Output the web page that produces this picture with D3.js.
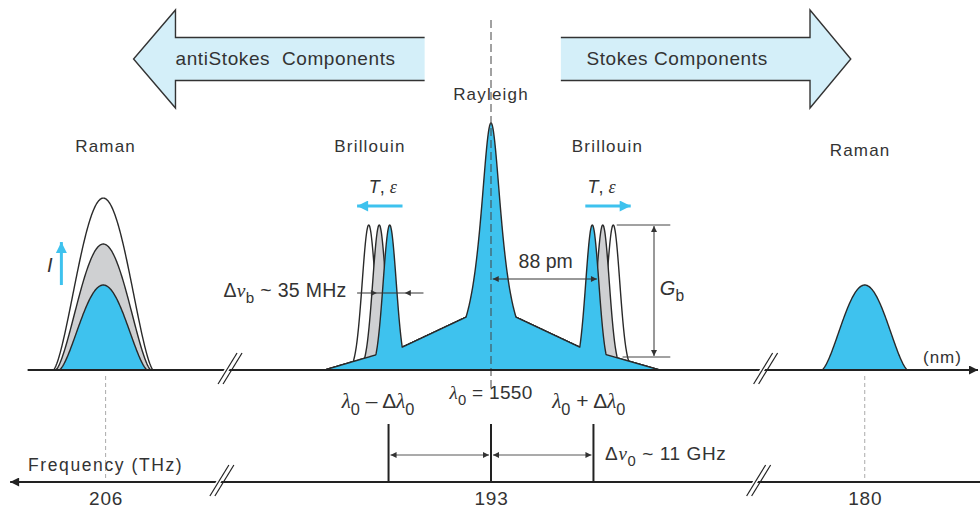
<!DOCTYPE html>
<html><head><meta charset="utf-8">
<script src="https://cdn.jsdelivr.net/npm/d3@7"></script>
<style>
html,body{margin:0;padding:0;background:#fff;}
svg{display:block;font-family:"Liberation Sans",Arial,sans-serif;}
</style></head><body>
<svg id="chart" width="980" height="515"></svg>
<script>
// ---------------- data (wavelength offset from λ0 in pm, intensity relative to Rayleigh) ----------------
const componentNames   = ["Raman", "Brillouin", "Rayleigh", "Brillouin", "Raman"];
const componentLabelPm = [-331, -104, 0, 100, 317];
const componentLabelY  = [152, 152, 100, 152, 156];

const rayleighPeak = 1.0;          // relative height
const rayleighHalfWidthPm = 11.2;  // Lorentzian half width

const pedestalPm    = [-143, -76, -21, 0, 21, 76, 145];
const pedestalLevel = [0, 0.093, 0.215, 0.26, 0.215, 0.093, 0];

const brillouinShiftPm = [87, 96, 105];         // blue (now), gray, white (shifted by T, ε)
const brillouinLevel   = [0.587, 0.587, 0.587];
const brillouinSigmaPm = 5.6;

const ramanAntiStokesPm = -333;
const ramanAntiStokesLevel = [0.344, 0.51, 0.696]; // blue, gray, white (increasing I)
const ramanAntiStokesHalfPm = [38, 41, 43];
const ramanStokesPm = 321;
const ramanStokesLevel = 0.344;
const ramanStokesHalfPm = 37;

const freqTickPm = [-331, 0, 321];
const freqTickLabels = ["206", "193", "180"];
const lambdaMarkPm = [-88, 0, 88];
const upperBreakPm = [-225, 235];
const lowerBreakPm = [-232, 229];

const arrowLabels = ["antiStokes  Components", "Stokes Components"];
const antiStokesArrowPm = [-307, -271, -57];  // tip, head base, shaft end
const stokesArrowPm = [60, 274, 309];         // shaft start, head base, tip

// ---------------- setup ----------------
const INK = "#333", BLUE = "#3ec2ee", GRAY = "#cfd0d2", PALE = "#d4eff9";
const svg = d3.select("#chart");
const x = d3.scaleLinear().domain([-420, 420]).range([2, 980]);
const y = d3.scaleLinear().domain([0, 1]).range([370, 123]);
const freqY = 482;

const defs = svg.append("defs");
function marker(id, color, w, h) {
  defs.append("marker").attr("id", id).attr("viewBox", "0 0 10 10").attr("refX", 10).attr("refY", 5)
    .attr("markerUnits", "userSpaceOnUse").attr("markerWidth", w).attr("markerHeight", h)
    .attr("orient", "auto-start-reverse")
    .append("path").attr("d", "M0,0 L10,5 L0,10 z").attr("fill", color);
}
marker("ah", INK, 9, 6);
marker("ahBig", "#222", 13, 9);
marker("ahBlue", BLUE, 14, 11);

function rich(sel, xp, yp, parts, size, anchor, ls) {
  const t = sel.append("text").attr("x", xp).attr("y", yp).attr("text-anchor", anchor || "start")
    .attr("font-size", size).attr("fill", INK).attr("letter-spacing", ls || 0).style("white-space", "pre");
  let shift = 0;
  parts.forEach(p => {
    const ts = t.append("tspan").text(p.t);
    const target = p.sub ? size * 0.32 : 0;
    if (target !== shift) { ts.attr("dy", target - shift); shift = target; }
    if (p.sub) ts.attr("font-size", size * 0.78);
    if (p.it) ts.attr("font-style", "italic");
    if (p.serif) ts.attr("font-family", "'Liberation Serif','DejaVu Serif',serif");
  });
  return t;
}

// ---------------- block arrows ----------------
const aCy = 59, shaftH = 21.5, headH = 49;
{
  const [tip, hb, se] = antiStokesArrowPm.map(x);
  const pts = [[se, aCy - shaftH], [hb, aCy - shaftH], [hb, aCy - headH], [tip, aCy], [hb, aCy + headH], [hb, aCy + shaftH], [se, aCy + shaftH]];
  svg.append("path").attr("d", d3.line()(pts) + "Z").attr("fill", PALE);
  svg.append("path").attr("d", d3.line()(pts)).attr("fill", "none").attr("stroke", INK).attr("stroke-width", 1.4);
  svg.append("text").attr("x", x(-271)).attr("y", 65).attr("font-size", 19).attr("letter-spacing", 0.6)
    .attr("fill", INK).style("white-space", "pre").text(arrowLabels[0]);
}
{
  const [ss, hb, tip] = stokesArrowPm.map(x);
  const pts = [[ss, aCy - shaftH], [hb, aCy - shaftH], [hb, aCy - headH], [tip, aCy], [hb, aCy + headH], [hb, aCy + shaftH], [ss, aCy + shaftH]];
  svg.append("path").attr("d", d3.line()(pts) + "Z").attr("fill", PALE);
  svg.append("path").attr("d", d3.line()(pts)).attr("fill", "none").attr("stroke", INK).attr("stroke-width", 1.4);
  svg.append("text").attr("x", x(82)).attr("y", 65).attr("font-size", 19).attr("letter-spacing", 0.6)
    .attr("fill", INK).text(arrowLabels[1]);
}

// ---------------- component labels ----------------
componentNames.forEach((n, i) => {
  svg.append("text").attr("x", x(componentLabelPm[i])).attr("y", componentLabelY[i]).attr("text-anchor", "middle")
    .attr("font-size", 17).attr("letter-spacing", 1.2).attr("fill", INK).text(n);
});

// ---------------- spectra ----------------
const gauss = (d, h, s) => h * Math.exp(-0.5 * (d / s) * (d / s));
const lorentz = (d, h, g) => h / (1 + (d / g) * (d / g));
const bump = (d, h, w) => Math.abs(d) < w ? h * Math.pow(Math.cos(Math.PI * d / (2 * w)), 1.5) : 0;
const ped = d3.scaleLinear().domain(pedestalPm).range(pedestalLevel).clamp(true);

const area = d3.area().x(d => x(d[0])).y0(y(0)).y1(d => y(d[1]));
const line = d3.line().x(d => x(d[0])).y(d => y(d[1]));
function shape(pts, fill) {
  svg.append("path").attr("d", area(pts)).attr("fill", fill);
  svg.append("path").attr("d", line(pts)).attr("fill", "none").attr("stroke", "#2a2a2a").attr("stroke-width", 1.4).attr("stroke-linejoin", "round");
}

// anti-Stokes Raman (white, gray, blue)
const ramanFills = [BLUE, GRAY, "#fff"];
[2, 1, 0].forEach(i => {
  const w = ramanAntiStokesHalfPm[i];
  const pts = d3.range(-w, w + 0.01, 0.5).map(d => [ramanAntiStokesPm + d, bump(d, ramanAntiStokesLevel[i], w)]);
  shape(pts, ramanFills[i]);
});
// Stokes Raman
{
  const w = ramanStokesHalfPm;
  const pts = d3.range(-w, w + 0.01, 0.5).map(d => [ramanStokesPm + d, bump(d, ramanStokesLevel, w)]);
  shape(pts, BLUE);
}
// central: Rayleigh + pedestal + Brillouin
const brFills = [BLUE, GRAY, "#fff"];
[2, 1, 0].forEach(i => {
  const s = brillouinShiftPm[i];
  const pts = d3.range(pedestalPm[0], pedestalPm[pedestalPm.length - 1] + 0.01, 0.25).map(d => {
    let v = Math.max(ped(d), gauss(d + s, brillouinLevel[i], brillouinSigmaPm), gauss(d - s, brillouinLevel[i], brillouinSigmaPm));
    if (i === 0 && Math.abs(d) < 40) v = Math.max(v, lorentz(d, rayleighPeak, rayleighHalfWidthPm));
    return [d, v];
  });
  shape(pts, brFills[i]);
});

// centre dashed line
svg.append("line").attr("x1", x(0)).attr("x2", x(0)).attr("y1", 20).attr("y2", 392)
  .attr("stroke", "#444").attr("stroke-width", 1).attr("stroke-dasharray", "8,4");
// Raman dotted guides
[freqTickPm[0], freqTickPm[2]].forEach(p => {
  svg.append("line").attr("x1", x(p)).attr("x2", x(p)).attr("y1", 376).attr("y2", freqY)
    .attr("stroke", "#aaa").attr("stroke-width", 1).attr("stroke-dasharray", "4,3");
});

// ---------------- axes ----------------
svg.append("line").attr("x1", x(-398)).attr("x2", x(420) - 2).attr("y1", y(0)).attr("y2", y(0))
  .attr("stroke", "#222").attr("stroke-width", 2).attr("marker-end", "url(#ahBig)");
svg.append("line").attr("x1", x(420)).attr("x2", x(-413)).attr("y1", freqY).attr("y2", freqY)
  .attr("stroke", "#222").attr("stroke-width", 2).attr("marker-end", "url(#ahBig)");

function brk(p, yy) {
  const cx = x(p);
  const a = [[cx - 11, yy + 14], [cx + 8, yy - 17]];
  const b = [[cx - 6, yy + 14], [cx + 13, yy - 17]];
  svg.append("path").attr("d", d3.line()([[cx - 8, yy + 5], [cx - 3, yy + 5], [cx + 3, yy - 5], [cx - 2, yy - 5]]) + "Z").attr("fill", "#fff");
  [a, b].forEach(l => svg.append("path").attr("d", d3.line()(l)).attr("stroke", "#222").attr("stroke-width", 1.2));
}
upperBreakPm.forEach(p => brk(p, y(0)));
lowerBreakPm.forEach(p => brk(p, freqY));

svg.append("text").attr("x", 923).attr("y", 363).attr("font-size", 17).attr("letter-spacing", 1).attr("fill", INK).text("(nm)");
svg.append("text").attr("x", 28).attr("y", 471).attr("font-size", 17.5).attr("letter-spacing", 1.6).attr("fill", INK).text("Frequency (THz)");

// frequency tick labels via d3 axis
const fAxis = svg.append("g").attr("transform", `translate(0,${freqY})`)
  .call(d3.axisBottom(x).tickValues(freqTickPm).tickFormat((d, i) => freqTickLabels[i]).tickSize(0).tickPadding(10));
fAxis.select(".domain").remove();
fAxis.selectAll("text").attr("font-size", 19).attr("letter-spacing", 0.8).attr("fill", INK)
  .attr("font-family", "'Liberation Sans',Arial,sans-serif");

// λ marker ticks on frequency axis
lambdaMarkPm.forEach(p => {
  svg.append("line").attr("x1", x(p)).attr("x2", x(p)).attr("y1", 424).attr("y2", freqY).attr("stroke", "#222").attr("stroke-width", 2);
});
[[lambdaMarkPm[0], lambdaMarkPm[1]], [lambdaMarkPm[1], lambdaMarkPm[2]]].forEach(([a, b]) => {
  svg.append("line").attr("x1", x(a) + 2).attr("x2", x(b) - 2).attr("y1", 455).attr("y2", 455)
    .attr("stroke", "#444").attr("stroke-width", 0.9).attr("marker-start", "url(#ah)").attr("marker-end", "url(#ah)");
});
const SUB = s => ({ t: s, sub: true });
const LAM = { t: "λ", it: true, serif: true };
rich(svg, x(-97), 408, [LAM, SUB("0"), { t: " – Δ" }, LAM, SUB("0")], 21, "middle");
rich(svg, x(0), 399, [LAM, SUB("0"), { t: " = 1550" }], 19, "middle", 0.3);
rich(svg, x(84), 408, [LAM, SUB("0"), { t: " + Δ" }, LAM, SUB("0")], 21, "middle");
rich(svg, x(98), 460, [{ t: "Δ" }, { t: "ν", it: true, serif: true }, SUB("0"), { t: " ~ 11 GHz" }], 19, "start", 0.6);

// ---------------- annotations ----------------
// T, ε arrows
rich(svg, x(-93), 193, [{ t: "T", it: true }, { t: ", " }, { t: "ε", it: true, serif: true }], 18, "middle");
rich(svg, x(95), 193, [{ t: "T", it: true }, { t: ", " }, { t: "ε", it: true, serif: true }], 18, "middle");
svg.append("line").attr("x1", x(-76)).attr("x2", x(-115)).attr("y1", 206).attr("y2", 206)
  .attr("stroke", BLUE).attr("stroke-width", 3).attr("marker-end", "url(#ahBlue)");
svg.append("line").attr("x1", x(81)).attr("x2", x(120)).attr("y1", 206).attr("y2", 206)
  .attr("stroke", BLUE).attr("stroke-width", 3).attr("marker-end", "url(#ahBlue)");

// intensity arrow I
svg.append("line").attr("x1", x(-369)).attr("x2", x(-369)).attr("y1", y(ramanAntiStokesLevel[0])).attr("y2", y(0.518))
  .attr("stroke", BLUE).attr("stroke-width", 3).attr("marker-end", "url(#ahBlue)");
svg.append("text").attr("x", x(-379)).attr("y", 272).attr("text-anchor", "middle").attr("font-size", 20)
  .attr("font-style", "italic").attr("fill", INK).text("I");

// Δν_b
rich(svg, x(-124), 297, [{ t: "Δ" }, { t: "ν", it: true, serif: true }, SUB("b"), { t: " ~ 35 MHz" }], 19.5, "end", 0.3);
svg.append("line").attr("x1", x(-115)).attr("x2", x(-58)).attr("y1", 293).attr("y2", 293).attr("stroke", "#333").attr("stroke-width", 1);
svg.append("line").attr("x1", x(-108)).attr("x2", x(-98)).attr("y1", 293).attr("y2", 293).attr("stroke", "none").attr("marker-end", "url(#ah)");
svg.append("line").attr("x1", x(-64)).attr("x2", x(-74)).attr("y1", 293).attr("y2", 293).attr("stroke", "none").attr("marker-end", "url(#ah)");

// 88 pm
svg.append("line").attr("x1", x(1.5)).attr("x2", x(91)).attr("y1", 279).attr("y2", 279)
  .attr("stroke", "#333").attr("stroke-width", 1).attr("marker-start", "url(#ah)").attr("marker-end", "url(#ah)");
svg.append("text").attr("x", x(47)).attr("y", 268).attr("text-anchor", "middle").attr("font-size", 19.5).attr("fill", INK).text("88 pm");

// G_b
svg.append("line").attr("x1", x(108)).attr("x2", x(154)).attr("y1", y(brillouinLevel[0])).attr("y2", y(brillouinLevel[0])).attr("stroke", "#444").attr("stroke-width", 1);
svg.append("line").attr("x1", x(113)).attr("x2", x(154)).attr("y1", 357).attr("y2", 357).attr("stroke", "#444").attr("stroke-width", 1);
svg.append("line").attr("x1", x(140)).attr("x2", x(140)).attr("y1", y(brillouinLevel[0]) + 1).attr("y2", 356)
  .attr("stroke", "#333").attr("stroke-width", 1).attr("marker-start", "url(#ah)").attr("marker-end", "url(#ah)");
rich(svg, x(145), 295, [{ t: "G", it: true }, SUB("b")], 20, "start");
</script>
</body></html>
